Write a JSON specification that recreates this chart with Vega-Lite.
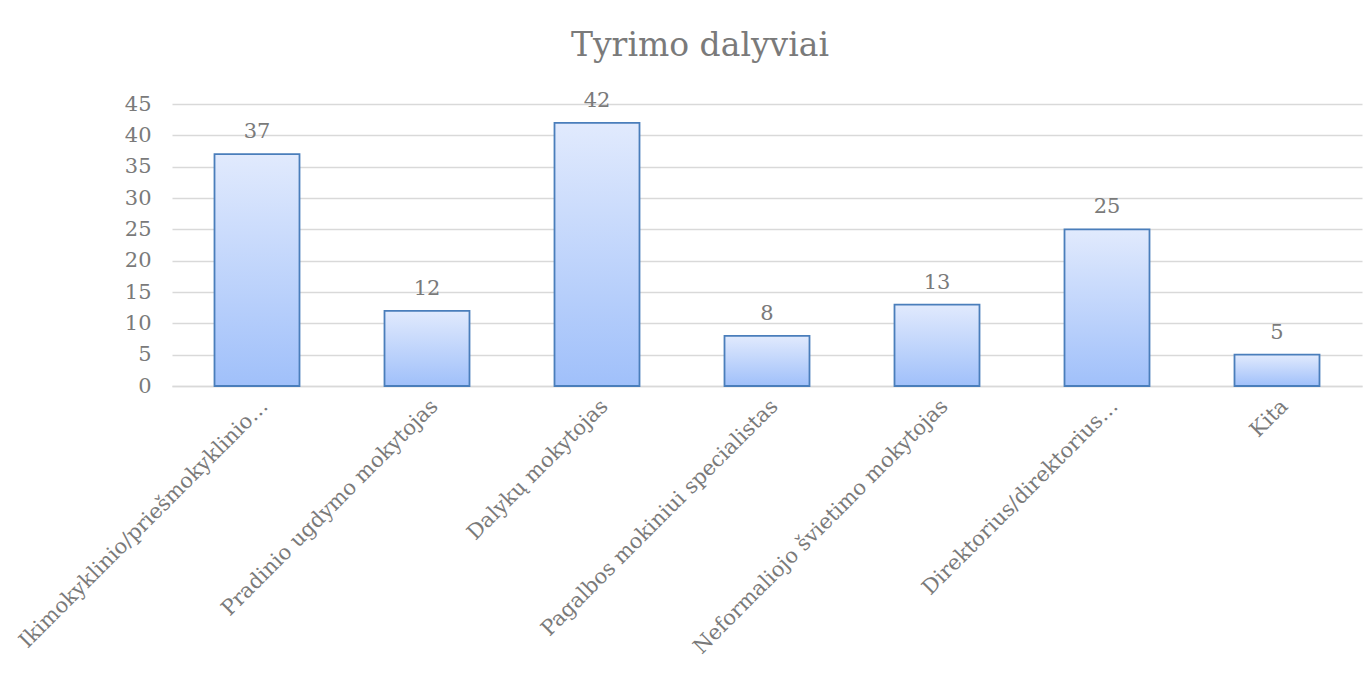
{
  "$schema": "https://vega.github.io/schema/vega-lite/v6.json",
  "width": 1190,
  "height": 282,
  "autosize": "none",
  "padding": {"left": 172, "top": 104, "right": 8, "bottom": 290},
  "background": "white",
  "title": {
    "text": "Tyrimo dalyviai",
    "font": "DejaVu Serif",
    "fontSize": 33,
    "fontWeight": "normal",
    "color": "#7a7a7a",
    "anchor": "middle",
    "dx": -67,
    "offset": 27
  },
  "data": {
    "values": [
      {"kategorija": "Ikimokyklinio/priešmokyklinio…", "skaicius": 37},
      {"kategorija": "Pradinio ugdymo mokytojas", "skaicius": 12},
      {"kategorija": "Dalykų mokytojas", "skaicius": 42},
      {"kategorija": "Pagalbos mokiniui specialistas", "skaicius": 8},
      {"kategorija": "Neformaliojo švietimo mokytojas", "skaicius": 13},
      {"kategorija": "Direktorius/direktorius…", "skaicius": 25},
      {"kategorija": "Kita", "skaicius": 5}
    ]
  },
  "encoding": {
    "x": {
      "field": "kategorija",
      "type": "nominal",
      "sort": null,
      "scale": {"paddingInner": 0.5, "paddingOuter": 0.25},
      "axis": {
        "title": null,
        "labelAngle": -45,
        "labelFont": "DejaVu Serif",
        "labelFontSize": 21,
        "labelColor": "#7a7a7a",
        "labelLimit": 0,
        "labelPadding": 9,
        "ticks": false,
        "domainColor": "#d9d9d9",
        "domainWidth": 1.5
      }
    },
    "y": {
      "field": "skaicius",
      "type": "quantitative",
      "scale": {"domain": [0, 45]},
      "axis": {
        "title": null,
        "values": [0, 5, 10, 15, 20, 25, 30, 35, 40, 45],
        "labelFont": "DejaVu Serif",
        "labelFontSize": 21,
        "labelColor": "#7a7a7a",
        "labelPadding": 21,
        "ticks": false,
        "domain": false,
        "gridColor": "#d9d9d9",
        "gridWidth": 1.3
      }
    }
  },
  "layer": [
    {
      "mark": {
        "type": "bar",
        "stroke": "#4a7ebb",
        "strokeWidth": 1.8,
        "fill": {
          "gradient": "linear",
          "x1": 0, "y1": 0, "x2": 0, "y2": 1,
          "stops": [
            {"offset": 0, "color": "#e1eafd"},
            {"offset": 1, "color": "#a0c0fa"}
          ]
        }
      }
    },
    {
      "mark": {
        "type": "text",
        "baseline": "bottom",
        "dy": -12,
        "font": "DejaVu Serif",
        "fontSize": 21,
        "color": "#7a7a7a"
      },
      "encoding": {"text": {"field": "skaicius", "type": "quantitative"}}
    }
  ],
  "config": {"view": {"stroke": null}}
}
